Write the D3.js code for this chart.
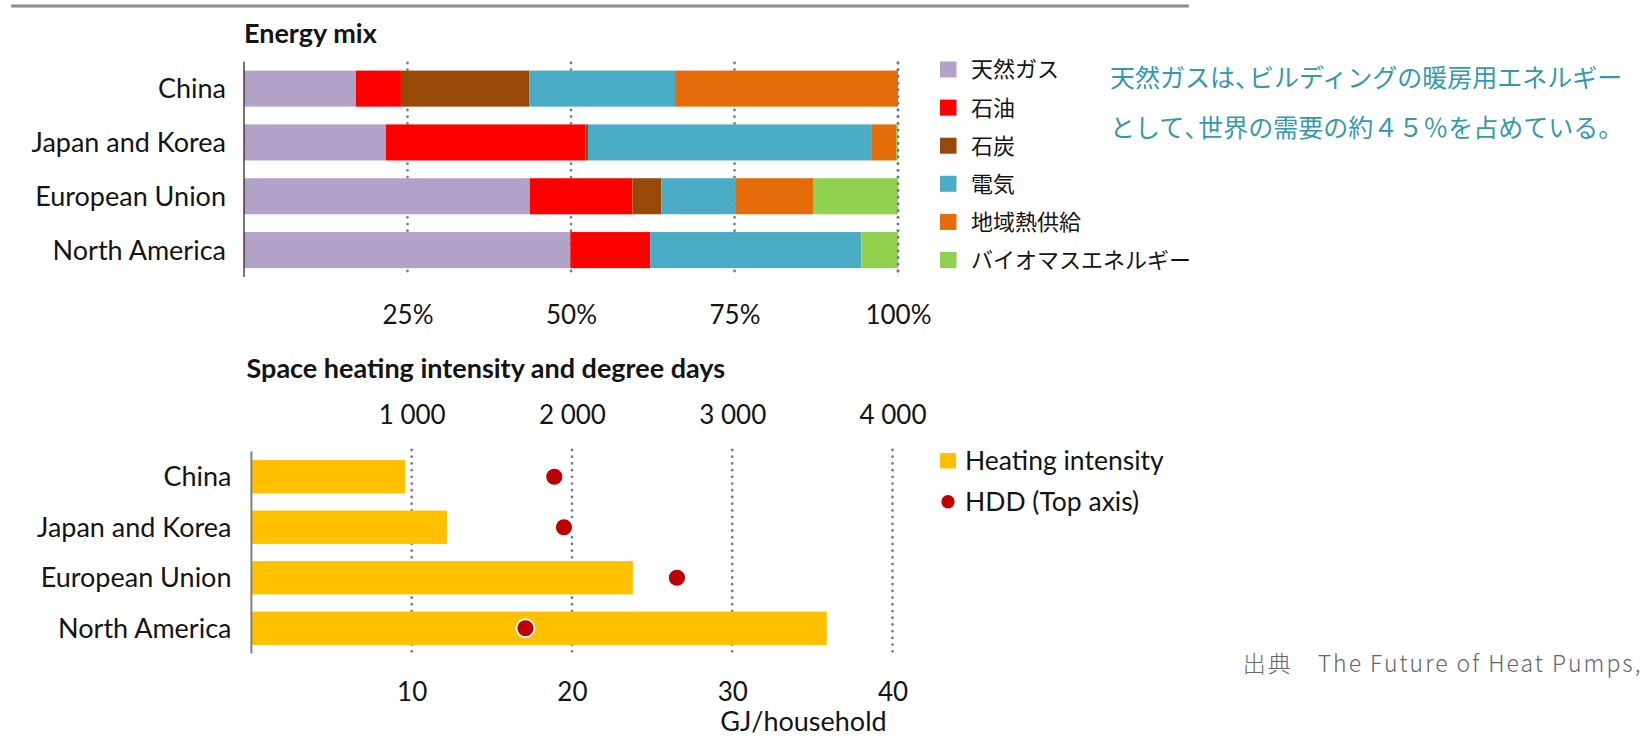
<!DOCTYPE html>
<html>
<head>
<meta charset="utf-8">
<script src="https://cdn.jsdelivr.net/npm/d3@7"></script>
<style>
  html, body { margin: 0; padding: 0; background: #fff; }
  svg { display: block; }
  .lat { font-family: Lato, "Open Sans", sans-serif; fill: #141414; }
  .jp { font-family: "Noto Sans CJK JP", sans-serif; }
</style>
</head>
<body>
<svg id="chart" width="1647" height="737"></svg>
<script>
// ---- data ----
const regions = ["China", "Japan and Korea", "European Union", "North America"];
const fuels = ["天然ガス", "石油", "石炭", "電気", "地域熱供給", "バイオマスエネルギー"];
const fuelColors = ["#b3a2c7", "#ff0000", "#984807", "#4bacc6", "#e46c0a", "#92d050"];

// share of space heating energy by fuel, %
const gas          = [17.1, 21.7, 43.7, 49.9];
const oil          = [6.9, 30.5, 15.7, 12.2];
const coal         = [19.6, 0.4, 4.4, 0];
const electricity  = [22.3, 43.3, 11.3, 32.3];
const districtHeat = [34.1, 3.8, 12.0, 0];
const bioenergy    = [0, 0.3, 12.9, 5.6];

const shareTicks = [25, 50, 75, 100];

// space heating intensity (GJ/household) and heating degree days
const heatingIntensity = [9.6, 12.2, 23.8, 35.9];
const hdd = [1890, 1950, 2655, 1710];
const intensityTicks = [10, 20, 30, 40];
const hddTicks = [1000, 2000, 3000, 4000];

const svg = d3.select("#chart");
const fmtThousands = v => d3.format(",")(v).replace(/,/g, " ");

// round-dot gridline style
const dotted = sel => sel
  .attr("stroke", "#7c7c7c").attr("stroke-width", 2.8)
  .attr("stroke-linecap", "round").attr("stroke-dasharray", "0.01 6.7");

// header rule
svg.append("line")
  .attr("x1", 11).attr("x2", 1189).attr("y1", 6).attr("y2", 6)
  .attr("stroke", "#8c8c8c").attr("stroke-width", 3);

// ================= Energy mix =================
const mixRows = regions.map((r, i) => {
  const o = { region: r };
  [gas, oil, coal, electricity, districtHeat, bioenergy].forEach((s, k) => o[fuels[k]] = s[i]);
  return o;
});
const stacked = d3.stack().keys(fuels)(mixRows);

const x1 = d3.scaleLinear().domain([0, 100]).range([244, 898]);
const y1 = d3.scaleBand().domain(regions).range([61.7, 277]).paddingInner(0.33).paddingOuter(0.165);

svg.append("text").attr("class", "lat")
  .attr("x", 244).attr("y", 43).attr("font-size", 27).attr("font-weight", 700)
  .text("Energy mix");

// gridlines
svg.append("g").selectAll("line").data(shareTicks).join("line")
  .attr("x1", d => x1(d)).attr("x2", d => x1(d))
  .attr("y1", 63).attr("y2", 272.5)
  .call(dotted);

svg.append("g").selectAll("g").data(stacked).join("g")
  .attr("fill", (d, i) => fuelColors[i])
  .selectAll("rect").data(d => d).join("rect")
  .attr("x", d => x1(d[0]))
  .attr("width", d => x1(d[1]) - x1(d[0]))
  .attr("y", d => y1(d.data.region))
  .attr("height", y1.bandwidth());

// 100% gridline stays visible over the bar ends
svg.append("line")
  .attr("x1", x1(100)).attr("x2", x1(100)).attr("y1", 63).attr("y2", 272.5)
  .call(dotted);

// axis line
svg.append("line")
  .attr("x1", 244).attr("x2", 244).attr("y1", 61.7).attr("y2", 277)
  .attr("stroke", "#1a1a1a").attr("stroke-width", 1.2);

// category labels
svg.append("g").selectAll("text").data(regions).join("text").attr("class", "lat")
  .attr("x", 226).attr("y", d => y1(d) + y1.bandwidth() / 2)
  .attr("dy", "0.35em").attr("text-anchor", "end").attr("font-size", 27)
  .text(d => d);

// percentage axis
const gx1 = svg.append("g").attr("transform", "translate(0,324.4)")
  .call(d3.axisBottom(x1).tickValues(shareTicks).tickFormat(d => d + "%").tickSize(0).tickPadding(0));
gx1.select(".domain").remove();
gx1.selectAll("text").attr("class", "lat").attr("font-size", 26).attr("fill", "#141414")
  .attr("y", 0).attr("dy", 0);

// legend
const leg1 = svg.append("g").selectAll("g").data(fuels).join("g")
  .attr("transform", (d, i) => `translate(940,${69.5 + i * 38.1})`);
leg1.append("rect").attr("x", 0).attr("y", -8).attr("width", 16.5).attr("height", 16)
  .attr("fill", (d, i) => fuelColors[i]);
leg1.append("text").attr("class", "jp").attr("x", 31).attr("dy", "0.36em")
  .attr("font-size", 22).attr("fill", "#141414").text(d => d);

// ================= Space heating intensity =================
const x2 = d3.scaleLinear().domain([0, 40]).range([251.4, 892.5]);
const x2top = d3.scaleLinear().domain([0, 4000]).range([251.4, 892.5]);
const y2 = d3.scaleBand().domain(regions).range([451.5, 653.5]).paddingInner(0.34).paddingOuter(0.17);

svg.append("text").attr("class", "lat")
  .attr("x", 246.5).attr("y", 378).attr("font-size", 27).attr("font-weight", 700)
  .text("Space heating intensity and degree days");

svg.append("g").selectAll("line").data(intensityTicks).join("line")
  .attr("x1", d => x2(d)).attr("x2", d => x2(d))
  .attr("y1", 450).attr("y2", 655)
  .call(dotted);

svg.append("g").selectAll("rect").data(regions).join("rect")
  .attr("x", x2(0)).attr("y", d => y2(d))
  .attr("width", (d, i) => x2(heatingIntensity[i]) - x2(0))
  .attr("height", y2.bandwidth())
  .attr("fill", "#ffc000");

svg.append("g").selectAll("circle").data(regions).join("circle")
  .attr("cx", (d, i) => x2top(hdd[i]))
  .attr("cy", d => y2(d) + y2.bandwidth() / 2)
  .attr("r", 9).attr("fill", "#c00000")
  .attr("stroke", "#fff").attr("stroke-width", 1.8);

svg.append("line")
  .attr("x1", 251.4).attr("x2", 251.4).attr("y1", 451.5).attr("y2", 653.5)
  .attr("stroke", "#7f7f7f").attr("stroke-width", 2);

svg.append("g").selectAll("text").data(regions).join("text").attr("class", "lat")
  .attr("x", 231.5).attr("y", d => y2(d) + y2.bandwidth() / 2)
  .attr("dy", "0.35em").attr("text-anchor", "end").attr("font-size", 27)
  .text(d => d);

// top axis: heating degree days
const gTop = svg.append("g").attr("transform", "translate(0,423.5)")
  .call(d3.axisTop(x2top).tickValues(hddTicks).tickFormat(fmtThousands).tickSize(0).tickPadding(0));
gTop.select(".domain").remove();
gTop.selectAll("text").attr("class", "lat").attr("font-size", 26).attr("fill", "#141414").attr("y", 0).attr("dy", 0);

// bottom axis: GJ/household
const gBot = svg.append("g").attr("transform", "translate(0,700.5)")
  .call(d3.axisBottom(x2).tickValues(intensityTicks).tickSize(0).tickPadding(0));
gBot.select(".domain").remove();
gBot.selectAll("text").attr("class", "lat").attr("font-size", 26).attr("fill", "#141414").attr("y", 0).attr("dy", 0);

svg.append("text").attr("class", "lat")
  .attr("x", 803.5).attr("y", 731).attr("text-anchor", "middle").attr("font-size", 27)
  .text("GJ/household");

// legend
const leg2 = svg.append("g").attr("transform", "translate(940,0)");
leg2.append("rect").attr("x", 0).attr("y", 453).attr("width", 16).attr("height", 15.5).attr("fill", "#ffc000");
leg2.append("text").attr("class", "lat").attr("x", 25).attr("y", 460.7).attr("dy", "0.35em")
  .attr("font-size", 26.5).text("Heating intensity");
leg2.append("circle").attr("cx", 8).attr("cy", 501.7).attr("r", 6.7).attr("fill", "#c00000");
leg2.append("text").attr("class", "lat").attr("x", 25).attr("y", 501.7).attr("dy", "0.35em")
  .attr("font-size", 26.5).text("HDD (Top axis)");

// ================= notes =================
const note = svg.append("g").attr("class", "jp").attr("fill", "#3399b0").attr("font-size", 25);
const line1 = note.append("text").attr("x", 1110).attr("y", 77.5).attr("dy", "0.36em");
line1.append("tspan").text("天然ガスは");
line1.append("tspan").attr("letter-spacing", -11).text("、");
line1.append("tspan").text("ビルディングの暖房用エネルギー");
const line2 = note.append("text").attr("x", 1110).attr("y", 128).attr("dy", "0.36em");
line2.append("tspan").text("として");
line2.append("tspan").attr("letter-spacing", -11).text("、");
line2.append("tspan").text("世界の需要の約４５％を占めている。");

svg.append("text").attr("class", "jp")
  .attr("x", 1242.7).attr("y", 672).attr("font-size", 23).attr("font-weight", 300)
  .attr("fill", "#666").attr("letter-spacing", 2)
  .text("出典　The Future of Heat Pumps,");
</script>
</body>
</html>
